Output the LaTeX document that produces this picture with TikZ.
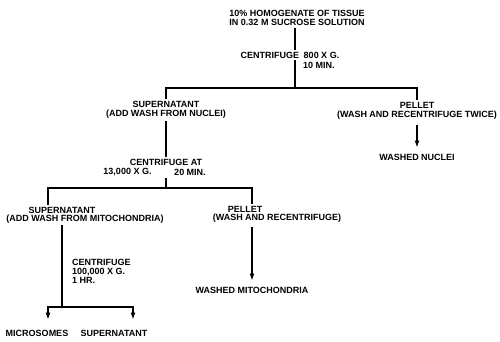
\documentclass[tikz,border=0pt]{standalone}
\usepackage{fontspec}
\setmainfont{Liberation Sans}
\usetikzlibrary{arrows.meta}

\begin{document}
\begin{tikzpicture}[x=1pt, y=-1pt,
            label/.style={font=\bfseries\fontsize{9}{9}\selectfont, align=center, inner sep=2pt},
            line/.style={line width=1.4pt},
            arrow/.style={line, -{Latex[length=7pt, width=5pt]}},
        ]
            \useasboundingbox (0,0) rectangle (500,341);
            % first spin
            \node[label] (homog) at (297,18) {10\% HOMOGENATE OF TISSUE\\IN 0.32 M SUCROSE SOLUTION};
            \node[label] (spin1) at (290,55) {CENTRIFUGE\enspace 800 X G.};
            \node[label, anchor=west] (time1) at (301,65) {10 MIN.};
            \coordinate (split1) at (295,88);
            \node[label] (sup1) at (166,110) {SUPERNATANT\\(ADD WASH FROM NUCLEI)};
            \node[label] (pel1) at (417,111) {PELLET\\(WASH AND RECENTRIFUGE TWICE)};
            \node[label] (nuclei) at (417,157) {WASHED NUCLEI};
            \draw[line] (homog.south -| split1) -- (spin1.north -| split1);
            \draw[line] (spin1.south -| split1) -- (split1);
            \draw[line] (sup1.north) |- (split1) -| (pel1.north);
            \draw[arrow, shorten <=3pt, shorten >=4pt] (pel1.south) -- (nuclei.north);
            % second spin
            \node[label] (spin2) at (166,162) {CENTRIFUGE AT};
            \node[label] (force2) at (127.5,172) {13,000 X G.};
            \node[label] (time2) at (190,172) {20 MIN.};
            \coordinate (split2) at (166,188);
            \coordinate (split2l) at (48,188);
            \coordinate (split2r) at (252,188);
            \node[label] (sup2) at (62,210) {SUPERNATANT};
            \node[label] (sup2note) at (85,219) {(ADD WASH FROM MITOCHONDRIA)};
            \node[label] (pel2) at (245,209) {PELLET};
            \node[label] (pel2note) at (277,218) {(WASH AND RECENTRIFUGE)};
            \node[label] (mito) at (252,290) {WASHED MITOCHONDRIA};
            \draw[line] (sup1.south) -- (spin2.north);
            \draw[line] (force2.south -| split2) -- (split2);
            \draw[line] (split2l |- sup2.north) -- (split2l) -- (split2r) -- (split2r |- pel2.north);
            \draw[arrow, shorten <=3pt, shorten >=4pt] (pel2note.south -| mito) -- (mito.north);
            % third spin
            \coordinate (split3) at (62,307);
            \coordinate (split3l) at (48,307);
            \coordinate (split3r) at (133,307);
            \node[label, align=left, anchor=west] (spin3) at (70,271.5) {CENTRIFUGE\\100,000 X G.\\1 HR.};
            \node[label] (micro) at (37,333) {MICROSOMES};
            \node[label] (sup3) at (114,333) {SUPERNATANT};
            \draw[line] (sup2note.south -| split3) -- (split3);
            \draw[arrow, shorten >=8pt] (split3) -| (split3l |- micro.north);
            \draw[arrow, shorten >=8pt] (split3) -| (split3r |- sup3.north);
        \end{tikzpicture}
\end{document}
